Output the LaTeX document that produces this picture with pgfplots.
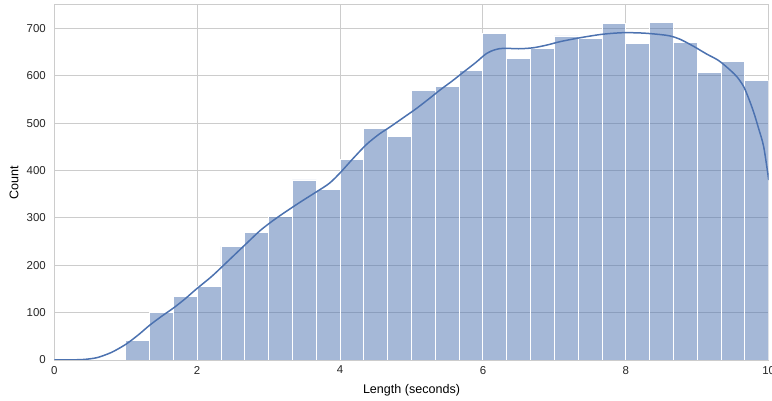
\documentclass[border=0pt]{standalone}
\usepackage{pgfplots}
\pgfplotsset{compat=1.18}
\usepackage{fontspec}
\setmainfont{Liberation Sans}

\definecolor{sbblue}{HTML}{4C72B0}
\definecolor{sbgrid}{HTML}{CCCCCC}
\definecolor{sbtext}{HTML}{262626}

% histogram: left bin edge, count (last row closes the final bin)
\pgfplotstableread{
x        y
1.0000   42
1.3333   100
1.6667   134
2.0000   155
2.3333   240
2.6667   269
3.0000   302
3.3333   380
3.6667   359
4.0000   423
4.3333   489
4.6667   472
5.0000   568
5.3333   577
5.6667   611
6.0000   690
6.3333   636
6.6667   658
7.0000   684
7.3333   679
7.6667   711
8.0000   669
8.3333   713
8.6667   671
9.0000   606
9.3333   630
9.6667   590
10.0000  590
}\histdata

% kernel density estimate, scaled to counts
\pgfplotstableread{
x      y
0.00   0
0.25   0.3
0.40   1
0.50   2.5
0.60   5
0.70   10
0.80   16
0.90   24
1.00   33
1.10   44
1.20   56
1.34   74
1.50   92
1.67   110
1.83   129
1.99   150
2.20   176
2.37   200
2.53   223
2.69   246
2.88   273
3.05   293
3.21   310
3.45   334
3.67   355
3.85   373
4.00   395
4.18   425
4.37   455
4.55   477
4.70   492
4.90   513
5.07   531
5.25   552
5.40   570
5.57   589
5.73   608
5.90   628
6.05   647
6.17   655
6.29   658
6.50   657
6.70   659
6.90   665
7.08   672
7.35   680
7.64   687
7.85   690
8.01   691
8.25   690
8.48   687
8.62   684
8.76   677
8.95   662
9.13   646
9.30   632
9.46   612
9.56   597
9.65   577
9.72   552
9.79   523
9.86   488
9.93   450
10.00  380
}\kdedata

\newcommand{\tickfont}{\fontsize{11.5}{13}\selectfont}
\newcommand{\labfont}{\fontsize{12.6}{14}\selectfont}

\begin{document}
\begin{tikzpicture}
\begin{axis}[
  scale only axis,
  width=714.4bp, height=355.3bp,
  xmin=0, xmax=10, ymin=0, ymax=750,
  xtick={0,2,...,10},
  ytick={0,100,...,700},
  grid=major,
  major grid style={draw=sbgrid, line width=1bp},
  axis line style={draw=sbgrid, line width=1bp},
  major tick length=0pt,
  tick style={draw=none},
  /pgf/number format/assume math mode=true,
  xticklabel={\tickfont\pgfmathprintnumber{\tick}},
  yticklabel={\tickfont\pgfmathprintnumber{\tick}},
  ticklabel style={text=sbtext},
  yticklabel style={xshift=-5bp},
  xticklabel style={yshift=-2.5bp},
  xlabel={\labfont Length (seconds)},
  ylabel={\labfont Count},
  label style={text=sbtext},
  every axis x label/.style={at={(axis description cs:0.5,-0.0844)}, anchor=center},
  every axis y label/.style={at={(axis description cs:-0.0564,0.5)}, anchor=center, rotate=90},
]
\addplot[ybar interval, fill=sbblue, fill opacity=0.5, draw=white, draw opacity=1, line width=0.9bp]
  table[x=x, y=y] {\histdata};
\addplot[sbblue, line width=1.5bp, smooth, no marks] table[x=x, y=y] {\kdedata};
\end{axis}
\pgfresetboundingbox
\path[use as bounding box]
  ([xshift=-54.3bp, yshift=-41bp]current axis.south west)
  rectangle ([xshift=3.3bp, yshift=4.7bp]current axis.north east);
\end{tikzpicture}
\end{document}
